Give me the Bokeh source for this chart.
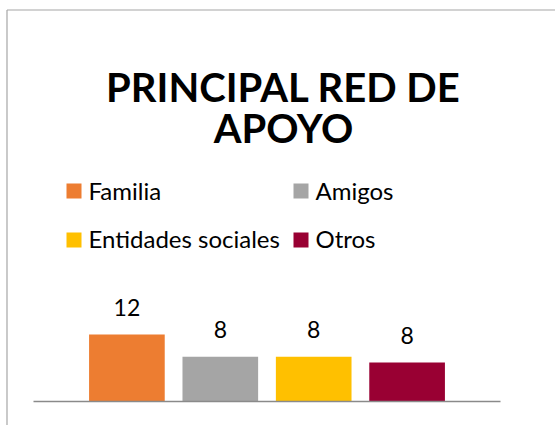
from bokeh.plotting import figure
from bokeh.models import Range1d, ColumnDataSource
from bokeh.core.properties import value
from bokeh.embed import file_html
from bokeh.resources import INLINE

# ---- data ----
categories = ["Familia", "Amigos", "Entidades sociales", "Otros"]
counts = [12, 8, 8, 7]
count_labels = ["12", "8", "8", "8"]
colors = ["#ED7D31", "#A5A5A5", "#FFC000", "#990033"]
title_lines = ["PRINCIPAL RED DE", "APOYO"]

# ---- layout (canvas pixels) ----
W, H = 555, 425
AX_L, AX_R, BASE = 33, 500, 401
PX_PER_UNIT = 5.58
x_start, x_end = -1.0, 4.0
unit = (AX_R - AX_L) / (x_end - x_start)
xr = Range1d(x_start - AX_L / unit, x_end + (W - AX_R) / unit)
yr = Range1d(-(H - BASE) / PX_PER_UNIT, BASE / PX_PER_UNIT)

p = figure(width=W, height=H, x_range=xr, y_range=yr,
           output_backend="svg", toolbar_location=None,
           x_axis_type=None, y_axis_type=None, min_border=0,
           outline_line_color=None, background_fill_color="white",
           border_fill_color="white")
for g in p.grid:
    g.visible = False
p.extra_x_ranges = {"px": Range1d(0, W)}
p.extra_y_ranges = {"px": Range1d(H, 0)}

FONT = value("Lato")

# chart frame border (top and left)
p.segment(x0=[6.5, 6.5], y0=[9.5, 9.5], x1=[W, 6.5], y1=[9.5, H],
          line_color="#a6a6a6", line_width=1.2,
          x_range_name="px", y_range_name="px")

# bars
idx = list(range(len(categories)))
src = ColumnDataSource(dict(x=idx, top=counts, color=colors, lab=count_labels, cat=categories))
p.vbar(x="x", top="top", width=0.81, source=src, fill_color="color", line_color=None)

# category axis line
p.segment(x0=[x_start], y0=[0], x1=[x_end], y1=[0], line_color="#8a8a8a", line_width=1.5)

# value labels
p.text(x="x", y="top", text="lab", source=src, text_align="center",
       text_baseline="alphabetic", y_offset=-27, text_font=FONT,
       text_font_size="23px", text_color="#000000")

# title
p.text(x=[283, 283], y=[86, 127], text=title_lines, x_range_name="px", y_range_name="px",
       text_font=FONT, text_font_style="bold", text_font_size="40px",
       text_align="center", text_baseline="alphabetic", text_color="#000000")

# legend (2 x 2)
leg_sq_x = [73.5, 300.5, 73.5, 300.5]
leg_sq_y = [190.5, 190.5, 239.5, 239.5]
p.rect(x=leg_sq_x, y=leg_sq_y, width=15, height=15, fill_color=colors, line_color=None,
       x_range_name="px", y_range_name="px")
p.text(x=[88, 315, 88, 315], y=[190, 190, 238, 238], text=categories,
       x_range_name="px", y_range_name="px", text_font=FONT, text_font_size="24px",
       text_align="left", text_baseline="alphabetic", text_color="#000000")

open("out.html", "w").write(file_html(p, INLINE))
